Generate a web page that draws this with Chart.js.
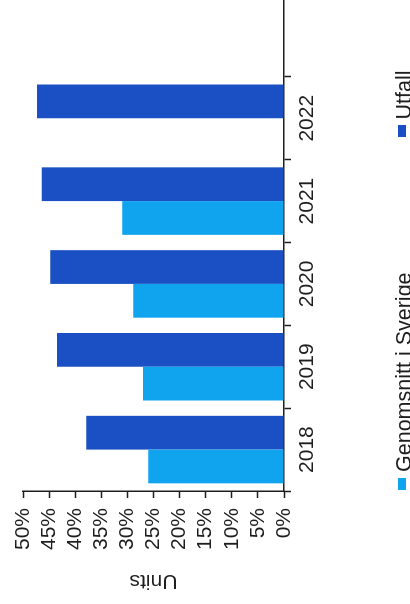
<!DOCTYPE html>
<html>
<head>
<meta charset="utf-8">
<script src="https://cdn.jsdelivr.net/npm/chart.js@4/dist/chart.umd.min.js"></script>
<style>
  html, body { margin: 0; padding: 0; width: 410px; height: 604px; overflow: hidden; background: #fff; }
  /* the chart is drawn upright, then the whole frame is turned a quarter to the left */
  #frame { position: absolute; left: 0; top: 0; width: 620px; height: 410px;
           transform-origin: 0 0; transform: translate(0, 604px) rotate(-90deg); }
  #wrap { position: absolute; left: 0; top: 0; width: 620px; height: 410px; }
  #legend { position: absolute; left: 114px; top: 394px; display: flex; gap: 135px;
            font: 21.5px "Liberation Sans", Arial, sans-serif; color: #1e1e1e; line-height: 1; white-space: nowrap; }
  .item { display: flex; align-items: center; }
  .sw { width: 12px; height: 8px; margin-right: 6px; position: relative; top: -3px; }
</style>
</head>
<body>
<div id="frame">
  <div id="wrap"><canvas id="chart"></canvas></div>
  <div id="legend"></div>
</div>
<script>
// ---- data ----
const years = ['2018', '2019', '2020', '2021', '2022', ''];   // axis runs one empty slot past 2022
const genomsnitt = [26.0, 27.0, 28.9, 31.0, null];            // Genomsnitt i Sverige, %
const utfall = [37.9, 43.5, 44.8, 46.4, 47.3];                // Utfall, %
const valueTicks = [0, 5, 10, 15, 20, 25, 30, 35, 40, 45, 50];

const LIGHT = '#10a3ee';
const DARK = '#1b50c4';
const INK = '#1e1e1e';
const FONT = { family: '"Liberation Sans", Arial, sans-serif', size: 21 };

// legend as html so the two entries can sit far apart like the original
const htmlLegend = {
  id: 'htmlLegend',
  afterUpdate(chart) {
    const box = document.getElementById('legend');
    box.innerHTML = chart.data.datasets.map(ds =>
      `<span class="item"><span class="sw" style="background:${ds.backgroundColor}"></span>${ds.label}</span>`
    ).join('');
  },
};

new Chart(document.getElementById('chart'), {
  type: 'bar',
  data: {
    labels: years,
    datasets: [
      { label: 'Genomsnitt i Sverige', data: genomsnitt, backgroundColor: LIGHT },
      { label: 'Utfall', data: utfall, backgroundColor: DARK },
    ],
  },
  options: {
    responsive: true,
    maintainAspectRatio: false,
    animation: false,
    datasets: { bar: { categoryPercentage: 0.815, barPercentage: 1 } },
    layout: { padding: { left: 0, right: 10, top: 23, bottom: 76 } },
    plugins: {
      legend: { display: false },
      tooltip: { enabled: false },
    },
    scales: {
      x: {
        afterFit: s => { s.height = 50; },
        grid: { display: true, drawOnChartArea: false, drawTicks: true, tickLength: 7, tickColor: INK, tickWidth: 1.5 },
        border: { display: true, color: INK, width: 1.5 },
        ticks: { color: INK, font: FONT, padding: 4, maxRotation: 0, autoSkip: false },
      },
      y: {
        min: 0, max: 50,
        afterFit: s => { s.width = 113; },
        afterBuildTicks: s => { s.ticks = valueTicks.map(v => ({ value: v })); },
        grid: { display: true, drawOnChartArea: false, drawTicks: true, tickLength: 7, tickColor: INK, tickWidth: 1.5 },
        border: { display: true, color: INK, width: 1.5 },
        ticks: { color: INK, font: FONT, padding: 10, autoSkip: false, callback: v => v + '%' },
        title: { display: true, text: 'Units', color: INK, font: FONT, padding: { top: 11, bottom: 0 } },
      },
    },
  },
  plugins: [htmlLegend],
});
</script>
</body>
</html>
